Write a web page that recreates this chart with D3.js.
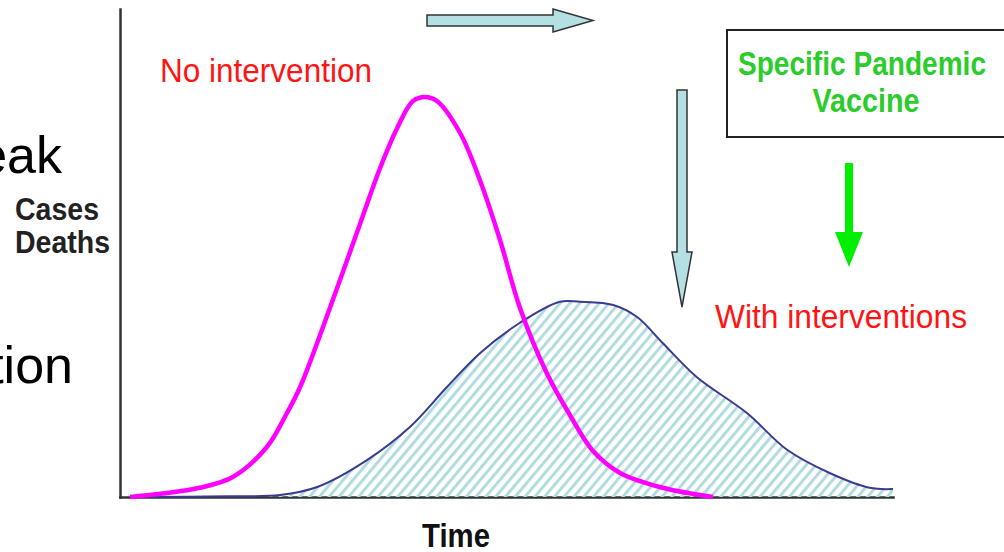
<!DOCTYPE html>
<html>
<head>
<meta charset="utf-8">
<script src="https://cdn.jsdelivr.net/npm/d3@7"></script>
<style>
    body { margin: 0; background: #fff; }
    svg { display: block; }
    .narrow { font-family: "Liberation Sans", Arial, sans-serif; }
</style>
</head>
<body>
<div id="chart"></div>
<script>
// Time axis runs 0..100, case counts 0..122 (peak of the uncontrolled curve = 100)
const noInterventionTime = [1.3, 6.1, 10.3, 14.6, 19.0, 21.6, 23.3, 27.2, 31.0, 33.6, 35.8, 37.9, 39.5, 41.0, 44.0, 46.6, 49.2, 51.7, 55.2, 58.2, 61.2, 64.7, 70.2, 76.7];
const noInterventionCases = [0, 1, 2.3, 5, 12.5, 21, 27.5, 47.5, 68, 82, 92, 99, 100, 99, 91, 79, 64, 47.5, 31, 20.5, 11.5, 6, 2.3, 0];

const withInterventionTime = [1.9, 14, 20.7, 25.5, 32.0, 37.5, 42.3, 46.6, 51.7, 56.9, 59.5, 63.8, 66.9, 70.2, 74.6, 81.1, 86.3, 91.8, 97.0, 100];
const withInterventionCases = [0, 0.2, 0.5, 2.5, 9.3, 17.5, 27.5, 36, 43.5, 48.8, 48.8, 48, 45, 38.5, 30, 21, 11.8, 6, 2.3, 2];

const axisLabels = { x: "Time", y: ["Cases", "Deaths"] };

const chart = () => {
    const width = 1004;
    const height = 552;

    const svg = d3.select("#chart")
        .append("svg")
        .attr("width", width)
        .attr("height", height);

    // Hatch for the "with interventions" area
    const defs = svg.append("defs");
    defs.append("pattern")
        .attr("id", "hatch")
        .attr("patternUnits", "userSpaceOnUse")
        .attr("width", 7.5)
        .attr("height", 7.5)
        .attr("patternTransform", "rotate(40)")
        .append("line")
        .attr("x1", 1.5).attr("y1", 0)
        .attr("x2", 1.5).attr("y2", 7.5)
        .attr("stroke", "#b0dbdf")
        .attr("stroke-width", 3);

    // Scales
    const x = d3.scaleLinear().domain([0, 100]).range([120, 893]);
    const y = d3.scaleLinear().domain([0, 122]).range([497, 9]);

    // Axes: plain lines, no ticks
    const axisStyle = g => {
        g.select(".domain").attr("stroke", "#333").attr("stroke-width", 2.5).attr("stroke-linecap", "square");
    };
    svg.append("g")
        .attr("transform", `translate(0, ${y(0)})`)
        .call(d3.axisBottom(x).tickValues([]).tickSizeOuter(0))
        .call(axisStyle);
    svg.append("g")
        .attr("transform", `translate(${x(0)}, 0)`)
        .call(d3.axisLeft(y).tickValues([]).tickSizeOuter(0))
        .call(axisStyle);

    // With interventions: hatched area + thin navy outline
    const withData = withInterventionTime.map((t, i) => ({ t, v: withInterventionCases[i] }));
    const curve = d3.curveCatmullRom.alpha(0.5);
    const area = d3.area()
        .x(d => x(d.t))
        .y0(y(0))
        .y1(d => y(d.v))
        .curve(curve);
    const line = d3.line()
        .x(d => x(d.t))
        .y(d => y(d.v))
        .curve(curve);

    svg.append("path")
        .datum(withData)
        .attr("d", area)
        .attr("fill", "url(#hatch)");
    svg.append("path")
        .datum(withData)
        .attr("d", line)
        .attr("fill", "none")
        .attr("stroke", "#3b3b8f")
        .attr("stroke-width", 2);

    // No intervention: thick magenta curve
    const noData = noInterventionTime.map((t, i) => ({ t, v: noInterventionCases[i] }));
    svg.append("path")
        .datum(noData)
        .attr("d", line)
        .attr("fill", "none")
        .attr("stroke", "#ff00ff")
        .attr("stroke-width", 4.5)
        .attr("stroke-linejoin", "round");

    // Text labels (Arial-like font squeezed to the narrow widths of the original)
    const label = (txt, px, py, opts = {}) => {
        const t = svg.append("text")
            .attr("class", "narrow")
            .attr("x", px)
            .attr("y", py)
            .attr("font-size", opts.size || 34)
            .attr("font-weight", opts.weight || "normal")
            .attr("fill", opts.fill || "#000")
            .attr("text-anchor", opts.anchor || "start")
            .text(txt);
        if (opts.len) t.attr("textLength", opts.len).attr("lengthAdjust", "spacingAndGlyphs");
        return t;
    };

    label("No intervention", 160, 82, { fill: "#ff1414", len: 212 });
    label("With interventions", 715, 328, { fill: "#ff1414", len: 252 });
    label(axisLabels.x, 456, 547, { weight: "bold", anchor: "middle", len: 68, fill: "#111", size: 33 });
    label(axisLabels.y[0], 15, 220, { weight: "bold", len: 84, fill: "#222", size: 32 });
    label(axisLabels.y[1], 15, 253, { weight: "bold", len: 95, fill: "#222", size: 32 });

    // Slide text clipped at the left edge
    svg.append("text").attr("x", 62).attr("y", 173).attr("text-anchor", "end")
        .attr("font-family", "Liberation Sans, Arial, sans-serif").attr("font-size", 52).text("eak");
    svg.append("text").attr("x", 73).attr("y", 383).attr("text-anchor", "end")
        .attr("font-family", "Liberation Sans, Arial, sans-serif").attr("font-size", 52).text("tion");

    // Vaccine box
    svg.append("rect")
        .attr("x", 727).attr("y", 30)
        .attr("width", 300).attr("height", 107)
        .attr("fill", "#fff")
        .attr("stroke", "#222")
        .attr("stroke-width", 2);
    label("Specific Pandemic", 862, 75, { fill: "#2ccc2c", weight: "bold", anchor: "middle", len: 248 });
    label("Vaccine", 866, 112, { fill: "#2ccc2c", weight: "bold", anchor: "middle", len: 107 });

    // Green arrow from the box
    svg.append("path")
        .attr("d", "M845,163 L853,163 L853,232 L863,232 L849,267 L835,232 L845,232 Z")
        .attr("fill", "#00ee00");

    // Light blue block arrows
    const arrowStyle = p => p.attr("fill", "#b4e0e4").attr("stroke", "#333").attr("stroke-width", 1.5);
    svg.append("path")
        .attr("d", "M677,90 L687,90 L687,252 L692,252 L682,307 L672,252 L677,252 Z")
        .call(arrowStyle);
    svg.append("path")
        .attr("d", "M427,15 L553,15 L553,9 L593,20.5 L553,32 L553,26 L427,26 Z")
        .call(arrowStyle);
};

chart();
</script>
</body>
</html>
